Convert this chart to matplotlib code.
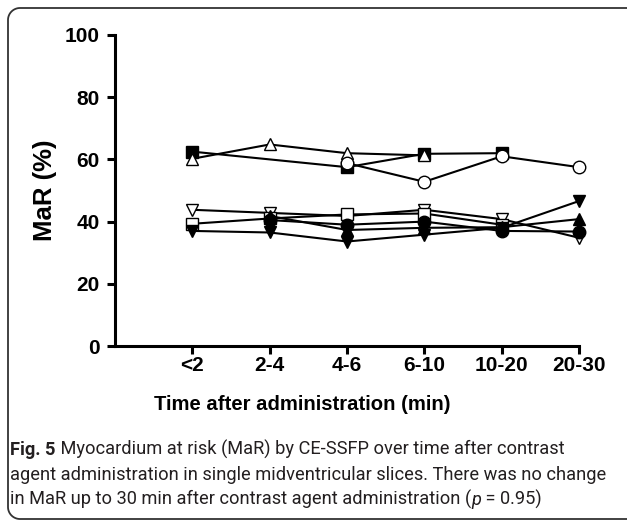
import numpy as np
import matplotlib
matplotlib.use("Agg")
import matplotlib.pyplot as plt
from matplotlib.lines import Line2D
from matplotlib import font_manager

categories = ['<2', '2-4', '4-6', '6-10', '10-20', '20-30']
nan = np.nan
# upper cluster
sq_filled = [62.5, nan, 57.5, 61.8, 62.0, nan]
tri_open = [60.2, 64.8, 62.0, 61.3, nan, nan]
circ_open = [nan, nan, 58.8, 52.8, 61.0, 57.5]
# lower cluster
invtri_open = [43.8, 42.8, 41.8, 43.8, 40.8, 34.8]
sq_open = [39.3, 41.0, 42.3, 42.6, 39.0, nan]
tri_filled = [nan, 41.8, 37.3, 38.0, 38.2, 40.8]
invtri_filled = [37.0, 36.5, 33.6, 35.8, 38.0, 46.6]
circ_filled = [nan, 40.5, 39.0, 40.0, 37.0, 36.8]

series = [
    (sq_filled, 's', 'black'),
    (tri_open, '^', 'white'),
    (circ_open, 'o', 'white'),
    (invtri_open, 'v', 'white'),
    (sq_open, 's', 'white'),
    (tri_filled, '^', 'black'),
    (invtri_filled, 'v', 'black'),
    (circ_filled, 'o', 'black'),
]

# narrow font for x title if available
try:
    font_manager.findfont(font_manager.FontProperties(family='Liberation Sans Narrow', weight='bold'),
                          fallback_to_default=False)
    xt_family, xt_size = 'Liberation Sans Narrow', 17.5
except Exception:
    xt_family, xt_size = 'Liberation Sans', 14.6

W, H = 627, 521
fig = plt.figure(figsize=(W / 100, H / 100), dpi=100)
ax = fig.add_axes([115 / W, 1 - 346 / H, (579 - 115) / W, (346 - 35) / H])

x_all = np.arange(len(categories))
for vals, m, fc in series:
    v = np.array(vals, dtype=float)
    ok = ~np.isnan(v)
    ax.plot(x_all[ok], v[ok], color='black', lw=1.5, marker=m, ms=9,
            mfc=fc, mec='black', mew=1.0, clip_on=False)

ax.set_xlim(-1, 5)
ax.set_ylim(0, 100)
ax.set_xticks(x_all)
ax.set_xticklabels(categories)
ax.set_yticks([0, 20, 40, 60, 80, 100])
for s in ['top', 'right']:
    ax.spines[s].set_visible(False)
for s in ['left', 'bottom']:
    ax.spines[s].set_linewidth(2.2)
ax.tick_params(axis='both', direction='out', length=6, width=2.2)
ax.tick_params(axis='x', pad=1.5)
ax.tick_params(axis='y', pad=5)
for lab in ax.get_xticklabels() + ax.get_yticklabels():
    lab.set_fontfamily('Liberation Sans')
    lab.set_fontweight('bold')
    lab.set_fontsize(15)

fig.text(45 / W, 1 - 190 / H, 'MaR (%)', rotation=90, ha='center', va='center',
         fontfamily='Liberation Sans', fontweight='bold', fontsize=18.5)
fig.text(302 / W, 1 - 404 / H, 'Time after administration (min)', ha='center', va='center',
         fontfamily=xt_family, fontweight='bold', fontsize=xt_size)

# border (rounded at left corners, running off the right edge)
r = 12.0
left, top, bottom = 8.0, 8.0, 519.0
th1 = np.linspace(np.pi / 2, np.pi, 20)
th2 = np.linspace(np.pi, 1.5 * np.pi, 20)
bx = np.concatenate([[660.0], left + r + r * np.cos(th1), left + r + r * np.cos(th2), [660.0]])
by = np.concatenate([[top], top + r - r * np.sin(th1), bottom - r - r * np.sin(th2), [bottom]])
fig.lines.append(Line2D(bx / W, 1 - by / H, transform=fig.transFigure, color='#333333',
                        lw=1.3, clip_on=False))

# caption
renderer = fig.canvas.get_renderer()
cap_font = 'Roboto'
fs = 12.0
probe = fig.text(0, 0, 'agent administration in single midventricular slices. There was no change',
                 fontfamily=cap_font, fontsize=fs)
wpx = probe.get_window_extent(renderer).width
probe.remove()
fs = fs * 593 / wpx


def runs(x0, y0, parts):
    x = x0
    for txt, kw in parts:
        t = fig.text(x / W, 1 - y0 / H, txt, fontfamily=cap_font, fontsize=fs,
                     color='#231f20', va='baseline', ha='left', **kw)
        x += t.get_window_extent(renderer).width


runs(10, 455, [('Fig. 5', {'fontweight': 'bold'}),
               (' Myocardium at risk (MaR) by CE-SSFP over time after contrast', {})])
runs(10, 480, [('agent administration in single midventricular slices. There was no change', {})])
runs(10, 505, [('in MaR up to 30 min after contrast agent administration (', {}),
               ('p', {'fontstyle': 'italic'}),
               (' = 0.95)', {})])

fig.savefig('out.png', dpi=100)
